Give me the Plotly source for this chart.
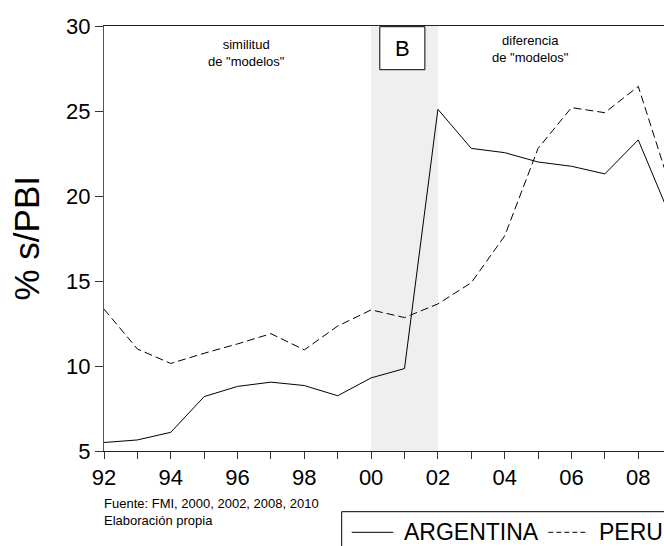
import plotly.graph_objects as go

years = list(range(1992, 2010))
argentina = [5.5, 5.65, 6.1, 8.2, 8.8, 9.05, 8.85, 8.25, 9.3, 9.85, 25.1,
             22.8, 22.55, 22.0, 21.75, 21.3, 23.3, 18.6]
peru = [13.35, 11.0, 10.15, 10.75, 11.3, 11.9, 10.95, 12.35, 13.3, 12.85, 13.65,
        14.9, 17.65, 22.8, 25.2, 24.9, 26.45, 20.3]
tick_years = list(range(1992, 2009))
tick_labels = [f"{y % 100:02d}" if y % 2 == 0 else "" for y in tick_years]
y_ticks = [5, 10, 15, 20, 25, 30]

ARIAL = "Arial, Liberation Sans, sans-serif"
SMALL = "Liberation Sans, Arial, sans-serif"

fig = go.Figure()
fig.add_trace(go.Scatter(x=years, y=argentina, mode="lines", name="ARGENTINA",
                         line=dict(color="black", width=1)))
fig.add_trace(go.Scatter(x=years, y=peru, mode="lines", name="PERU",
                         line=dict(color="black", width=1, dash="8px,4px")))

L, W = 104, 560  # plot left, plot width in px
T, H = 26, 425

def px(xp):
    return (xp - L) / W

def py(yp):
    return (T + H - yp) / H

shapes = [
    dict(type="rect", xref="x", yref="paper", x0=2000, x1=2002, y0=0, y1=1,
         fillcolor="#efefef", line=dict(width=0), layer="below"),
    dict(type="rect", xref="x", yref="y", x0=2000.26, x1=2001.61, y0=27.43, y1=29.96,
         fillcolor="white", line=dict(color="black", width=1), layer="above"),
    # legend box
    dict(type="rect", xref="paper", yref="paper", x0=px(341.7), x1=1.2, y0=py(511.7), y1=py(600),
         fillcolor="white", line=dict(color="black", width=1)),
    dict(type="line", xref="paper", yref="paper", x0=px(351.7), x1=px(393.3), y0=py(532.3), y1=py(532.3),
         line=dict(color="black", width=1)),
    dict(type="line", xref="paper", yref="paper", x0=px(548.3), x1=px(588.3), y0=py(532.3), y1=py(532.3),
         line=dict(color="black", width=1, dash="5px,3px")),
]

annotations = [
    dict(x=2000.935, y=28.7, xref="x", yref="y", text="B", showarrow=False,
         font=dict(family=ARIAL, size=22, color="black")),
    dict(x=1996.27, y=28.44, xref="x", yref="y", text='similitud<br>de "modelos"', showarrow=False,
         font=dict(family=SMALL, size=13, color="black"), align="center"),
    dict(x=2004.76, y=28.62, xref="x", yref="y", text='diferencia<br>de "modelos"', showarrow=False,
         font=dict(family=SMALL, size=13, color="black"), align="center"),
    dict(x=px(102), y=py(512.3), xref="paper", yref="paper", xanchor="left", yanchor="middle",
         text="Fuente: FMI, 2000, 2002, 2008, 2010<br>Elaboración propia", showarrow=False,
         font=dict(family=SMALL, size=13, color="black"), align="left"),
    dict(x=px(402), y=py(532.3), xref="paper", yref="paper", xanchor="left", yanchor="middle",
         text="ARGENTINA", showarrow=False, font=dict(family=ARIAL, size=23, color="black")),
    dict(x=px(596.5), y=py(532.3), xref="paper", yref="paper", xanchor="left", yanchor="middle",
         text="PERU", showarrow=False, font=dict(family=ARIAL, size=23, color="black")),
    dict(x=px(26), y=0.5, xref="paper", yref="paper", xanchor="center", yanchor="middle",
         text="% s/PBI", textangle=-90,
         showarrow=False, font=dict(family=ARIAL, size=35, color="black")),
]

fig.update_layout(
    width=664, height=546,
    margin=dict(l=L, r=0, t=T, b=546 - T - H, pad=0),
    paper_bgcolor="white", plot_bgcolor="white",
    showlegend=False,
    shapes=shapes, annotations=annotations,
    font=dict(family=ARIAL, color="black"),
)
fig.update_xaxes(range=[1992, 1992 + W / 33.39], tickvals=tick_years, ticktext=tick_labels,
                 ticks="outside", ticklen=7, tickwidth=1, tickcolor="#333",
                 showline=True, linecolor="#222", linewidth=1, mirror=True,
                 showgrid=False, zeroline=False, tickfont=dict(size=22, family=ARIAL))
fig.update_yaxes(range=[5, 30], tickvals=y_ticks, ticks="outside", ticklen=8, tickwidth=1,
                 tickcolor="#333", showline=True, linecolor="#555", linewidth=1,
                 showgrid=False, zeroline=False, tickfont=dict(size=22, family=ARIAL))

fig.write_html("out.html", config={"displayModeBar": False},
               post_script="document.body.style.margin='0';document.body.style.overflow='hidden';")
